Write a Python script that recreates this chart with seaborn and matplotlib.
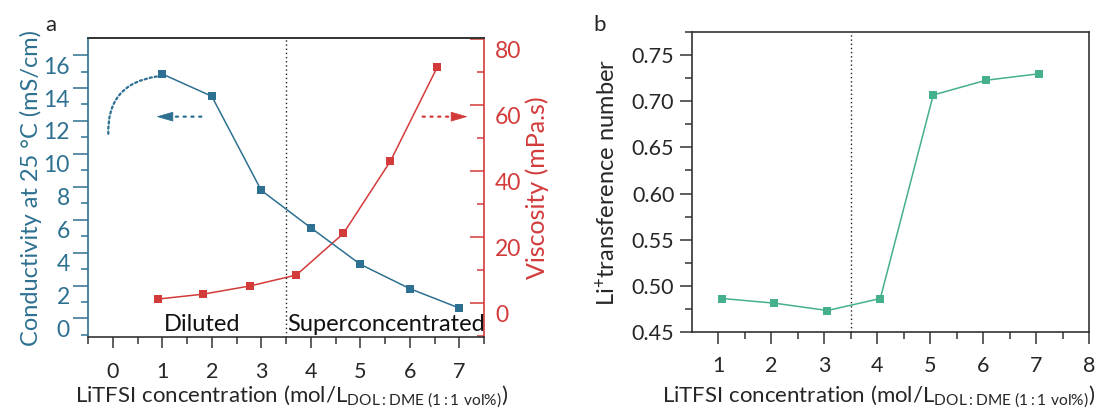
import numpy as np
import pandas as pd
import matplotlib
matplotlib.use("Agg")
import matplotlib.pyplot as plt
import matplotlib.transforms as mtransforms
import seaborn as sns

# panel a: conductivity and viscosity vs LiTFSI concentration
conc_cond = [1, 2, 3, 4, 5, 6, 7]
conductivity = [15.45, 14.1, 8.38, 6.11, 3.89, 2.41, 1.23]
conc_visc = [0.91, 1.83, 2.78, 3.71, 4.66, 5.61, 6.56]
viscosity = [4.3, 5.8, 8.3, 11.6, 24.2, 46.1, 74.7]

# panel b: Li+ transference number
conc_tli = [1.08, 2.06, 3.06, 4.06, 5.06, 6.06, 7.06]
transference = [0.486, 0.481, 0.473, 0.486, 0.707, 0.723, 0.730]

cond_labels = [0, 2, 4, 6, 8, 10, 12, 14, 16]
visc_labels = [0, 20, 40, 60, 80]
b_yticks = [0.45, 0.50, 0.55, 0.60, 0.65, 0.70, 0.75]

BLUE = "#2e7091"
RED = "#d33b3b"
GREEN = "#44b08e"
DARK = "#333333"

sns.set_style("ticks")
plt.rcParams["font.family"] = ["Lato", "DejaVu Sans"]
plt.rcParams["mathtext.fontset"] = "custom"
plt.rcParams["mathtext.rm"] = "Lato"
plt.rcParams["mathtext.it"] = "Lato"

TICK_FS = 15.5
LABEL_FS = 17
xlab = r"LiTFSI concentration (mol/L$_\mathregular{DOL:DME\ (1:1\ vol\%)}$)"

fig = plt.figure(figsize=(10.99, 4.12), dpi=100)
ax1 = fig.add_axes([0.0801, 0.1828, 0.3603, 0.7242])
ax2 = ax1.twinx()
axb = fig.add_axes([0.6294, 0.1949, 0.3615, 0.7267])

# ---- panel a ----
df_cond = pd.DataFrame({"c": conc_cond, "v": conductivity})
df_visc = pd.DataFrame({"c": conc_visc, "v": viscosity})
sns.lineplot(data=df_cond, x="c", y="v", ax=ax1, color=BLUE, marker="s",
             markersize=6, markeredgewidth=0, linewidth=1.1)
sns.lineplot(data=df_visc, x="c", y="v", ax=ax2, color=RED, marker="s",
             markersize=6, markeredgewidth=0, linewidth=1.1)

ax1.set_xlim(-0.5, 7.5)
ax1.set_ylim(-0.51, 17.62)
ax2.set_ylim(-7.09, 83.3)

ax1.set_xticks(range(0, 8))
ax1.set_xticks(np.arange(-0.5, 7.6, 1.0), minor=True)

# long ticks sit a bit above their labels in the original figure
ax1.set_yticks([v + 0.6 for v in cond_labels], labels=[str(v) for v in cond_labels])
ax1.set_yticks([v - 0.4 for v in cond_labels], minor=True)
ax2.set_yticks([v + 3 for v in visc_labels], labels=[str(v) for v in visc_labels])
ax2.set_yticks([v - 7 for v in visc_labels], minor=True)

ax1.tick_params(axis="x", which="major", length=8, width=1.1, color=DARK,
                labelsize=TICK_FS, pad=10)
ax1.tick_params(axis="x", which="minor", length=5, width=1.1, color=DARK)
ax1.tick_params(axis="y", which="major", length=11, width=1.1, color=BLUE,
                labelcolor=BLUE, labelsize=TICK_FS + 1, pad=2)
ax1.tick_params(axis="y", which="minor", length=5, width=1.1, color=BLUE)
ax2.tick_params(axis="y", which="major", direction="in", length=10, width=1.1,
                color=RED, labelcolor=RED, labelsize=TICK_FS + 1, pad=8)
ax2.tick_params(axis="y", which="minor", direction="in", length=5, width=1.1, color=RED)

for a in (ax1, ax2):
    for s in a.spines.values():
        s.set_linewidth(1.2)
ax1.spines["left"].set_color(BLUE)
ax2.spines["left"].set_visible(False)
ax2.spines["right"].set_color(RED)
ax2.spines["top"].set_color(DARK)
ax2.spines["bottom"].set_visible(False)
ax1.spines["bottom"].set_color(DARK)
ax1.spines["top"].set_color(DARK)
ax1.spines["right"].set_visible(False)

ax1.set_xlabel(xlab, fontsize=16)
ax1.xaxis.set_label_coords(0.515, -0.16)
ax1.set_ylabel("Conductivity at 25 °C (mS/cm)", fontsize=LABEL_FS, color=BLUE, labelpad=1)
ax2.set_ylabel("Viscosity (mPa.s)", fontsize=18, color=RED, labelpad=3)

ax1.axvline(3.5, color="#222222", linewidth=1.0, linestyle=(0, (1, 2)))

# dotted arc + arrows pointing to each axis
ax1.annotate("", xy=(-0.09, 11.74), xytext=(0.89, 15.3),
             arrowprops=dict(arrowstyle="-", color=BLUE, lw=1.6, linestyle=(0, (1, 1.3)),
                             connectionstyle="arc3,rad=0.45", shrinkA=0, shrinkB=0))
ax1.annotate("", xy=(1.19, 12.86), xytext=(1.79, 12.86),
             arrowprops=dict(arrowstyle="-", color=BLUE, lw=1.6, linestyle=(0, (1, 2.5)),
                             shrinkA=0, shrinkB=0))
ax1.annotate("", xy=(0.88, 12.86), xytext=(1.19, 12.86),
             arrowprops=dict(arrowstyle="-|>,head_length=1.1,head_width=0.32", color=BLUE,
                             lw=0.5, shrinkA=0, shrinkB=0))
ax1.annotate("", xy=(6.84, 12.86), xytext=(6.26, 12.86),
             arrowprops=dict(arrowstyle="-", color=RED, lw=1.6, linestyle=(0, (1, 2.5)),
                             shrinkA=0, shrinkB=0))
ax1.annotate("", xy=(7.17, 12.86), xytext=(6.84, 12.86),
             arrowprops=dict(arrowstyle="-|>,head_length=1.1,head_width=0.32", color=RED,
                             lw=0.5, shrinkA=0, shrinkB=0))

ax1.text(1.81, -0.15, "Diluted", fontsize=17, ha="center", va="baseline", color="#111111")
ax1.text(3.52, -0.15, "Superconcentrated", fontsize=17, ha="left", va="baseline",
         color="#111111")
ax1.set_zorder(ax2.get_zorder() + 1)
ax1.patch.set_visible(False)

fig.text(0.046, 0.94, "a", fontsize=16, ha="center", va="center")

# ---- panel b ----
df_b = pd.DataFrame({"c": conc_tli, "t": transference})
sns.lineplot(data=df_b, x="c", y="t", ax=axb, color=GREEN, marker="s",
             markersize=6, markeredgewidth=0, linewidth=1.1)
axb.set_xlim(0.5, 8)
axb.set_ylim(0.45, 0.7745)
axb.set_xticks(range(1, 9))
axb.set_xticks(np.arange(1.5, 8, 1.0), minor=True)
axb.set_yticks(b_yticks, labels=[f"{v:.2f}" for v in b_yticks])
axb.set_yticks([v + 0.025 for v in b_yticks], minor=True)
axb.axvline(3.5, color="#222222", linewidth=1.0, linestyle=(0, (1, 2)))

axb.tick_params(which="major", length=8.5, width=1.1, color=DARK, labelsize=TICK_FS)
axb.tick_params(which="minor", length=5, width=1.1, color=DARK)
axb.tick_params(axis="y", which="major", pad=4)
axb.tick_params(axis="x", which="major", pad=9)
for s in axb.spines.values():
    s.set_linewidth(1.2)
    s.set_color(DARK)
axb.set_xlabel(xlab, fontsize=16)
axb.xaxis.set_label_coords(0.471, -0.175)
axb.set_ylabel(r"Li$^\mathregular{+}$transference number", fontsize=LABEL_FS, labelpad=9)

fig.text(0.546, 0.94, "b", fontsize=16, ha="center", va="center")

# shift the panel-a y tick labels below their long ticks (as in the original)
shift = mtransforms.ScaledTranslation(0, -0.10, fig.dpi_scale_trans)
for a in (ax1, ax2):
    for tick in a.yaxis.get_major_ticks():
        tick.label1.set_transform(tick.label1.get_transform() + shift)
        tick.label2.set_transform(tick.label2.get_transform() + shift)

fig.savefig("out.png", dpi=100)
